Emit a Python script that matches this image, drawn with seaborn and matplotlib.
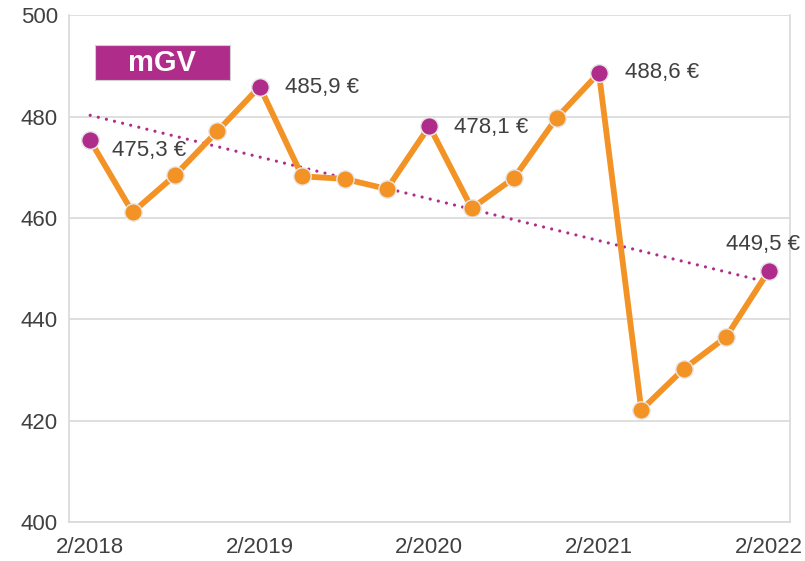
import numpy as np
import pandas as pd
import seaborn as sns
import matplotlib.pyplot as plt
from matplotlib.patches import Rectangle

# Quartalswerte mGV (Euro)
quarters = ["2/2018", "3/2018", "4/2018", "1/2019", "2/2019", "3/2019", "4/2019", "1/2020",
            "2/2020", "3/2020", "4/2020", "1/2021", "2/2021", "3/2021", "4/2021", "1/2022", "2/2022"]
values = [475.3, 461.1, 468.4, 477.1, 485.9, 468.2, 467.7, 465.7,
          478.1, 461.9, 467.9, 479.7, 488.6, 422.1, 430.2, 436.5, 449.5]
labeled = [0, 4, 8, 12, 16]
tick_idx = [0, 4, 8, 12, 16]

orange = "#F39325"
purple = "#B02C8A"
grey_txt = "#404040"
grid_col = "#D9D9D9"

df = pd.DataFrame({"i": np.arange(len(values)), "value": values, "quarter": quarters})
hl = df.iloc[labeled]

sns.set_style("white")
plt.rcParams["font.family"] = ["Liberation Sans", "DejaVu Sans"]

fig = plt.figure(figsize=(8.05, 5.61), dpi=100)
ax = fig.add_axes([0.0857, 0.0695, 0.8953, 0.9035])

# Trendlinie (lineare Regression)
sns.regplot(data=df, x="i", y="value", scatter=False, ci=None, ax=ax,
            line_kws=dict(color=purple, lw=2.3, linestyle=(0, (0.01, 2.6)),
                          dash_capstyle="round", zorder=2))

sns.lineplot(data=df, x="i", y="value", ax=ax, color=orange, lw=4.2,
             marker="o", markersize=12.5, markeredgecolor="#E8E8E8",
             markeredgewidth=1, zorder=3)
sns.scatterplot(data=hl, x="i", y="value", ax=ax, color=purple, s=160,
                edgecolor="#E8E8E8", linewidth=1, zorder=4)

offsets = {0: (22, -10, "left"), 4: (25, -1, "left"), 8: (25, -1, "left"),
           12: (26, 0, "left"), 16: (-6, 27, "center")}
for idx in labeled:
    dx, dy, ha = offsets[idx]
    ax.annotate(f"{values[idx]:.1f} €".replace(".", ","), (idx, values[idx]),
                xytext=(dx, dy), textcoords="offset pixels", ha=ha, va="center",
                fontsize=16, color=grey_txt, zorder=5)

# Kasten "mGV"
ax.add_patch(Rectangle((0.036, 0.872), 0.187, 0.069, transform=ax.transAxes,
                       fc=purple, ec="#D0D0D0", lw=0.8, zorder=6))
ax.text(0.129, 0.906, "mGV", transform=ax.transAxes, fontsize=21, fontweight="bold",
        color="white", ha="center", va="center", zorder=7)

ax.set_ylim(400, 500)
ax.set_yticks(np.arange(400, 501, 20))
ax.set_xlim(-0.5, len(values) - 0.5)
ax.set_xticks(tick_idx)
ax.set_xticklabels([quarters[i] for i in tick_idx])
ax.set_xticks(np.arange(-0.5, len(values), 1), minor=True)
ax.tick_params(axis="x", which="major", length=0, pad=11, labelsize=16, labelcolor=grey_txt)
ax.tick_params(axis="x", which="minor", length=5, color=grid_col, width=1.2, direction="out")
ax.tick_params(axis="y", length=0, pad=8, labelsize=16, labelcolor=grey_txt)
ax.grid(axis="y", color=grid_col, lw=1.2)
ax.grid(axis="x", visible=False)
ax.set_xlabel("")
ax.set_ylabel("")
for s in ["left", "right", "bottom"]:
    ax.spines[s].set_color(grid_col)
    ax.spines[s].set_linewidth(1.2)
ax.spines["top"].set_visible(False)

fig.savefig("out.png", dpi=100)
